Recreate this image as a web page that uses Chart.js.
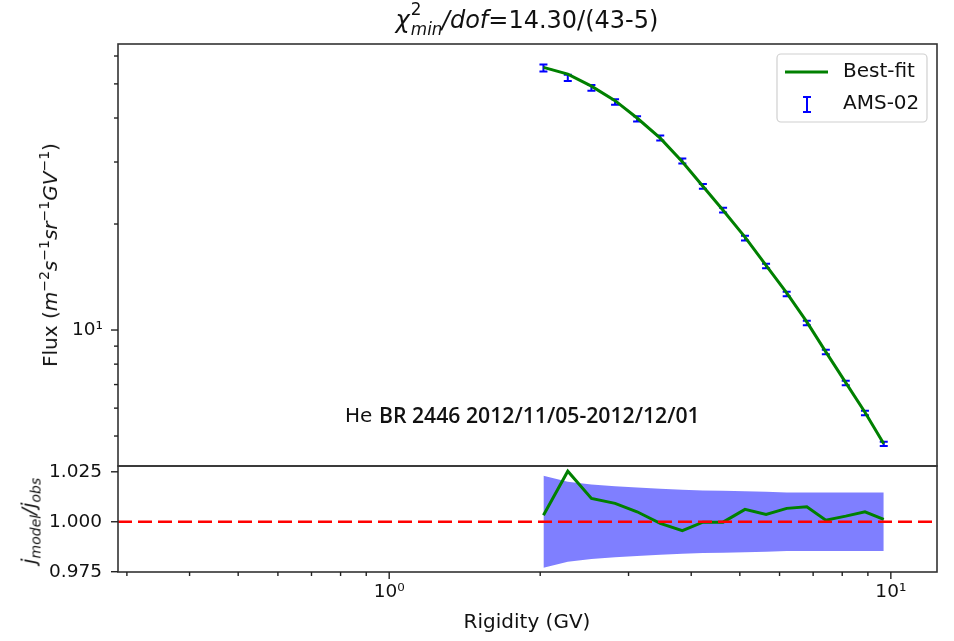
<!DOCTYPE html>
<html>
<head>
<meta charset="utf-8">
<script src="https://cdn.jsdelivr.net/npm/chart.js@4.4.0/dist/chart.umd.min.js"></script>
<style>
body{margin:0;background:#fff;font-family:"DejaVu Sans",sans-serif;color:#111;}
#wrap{position:relative;width:954px;height:641px;overflow:hidden;}
canvas{position:absolute;left:0;}
#top{top:0;}
#bot{top:446px;}
.lbl{position:absolute;white-space:nowrap;font-size:20px;line-height:24px;}
.title{font-size:24px;line-height:28px;}
.rot{transform:translate(-50%,-50%) rotate(-90deg);}
.ctr{transform:translate(-50%,0);}
.ss{position:relative;display:inline-block;width:32px;height:24px;}
.ss span{position:absolute;left:1px;font-size:16.8px;line-height:17px;}
.s2{top:-3px;}
.smin{top:17px;font-style:italic;}
sup{font-size:0.7em;vertical-align:0.55em;line-height:0;}
.ann2{font-family:"Open Sans",sans-serif;font-weight:600;font-size:21.2px;}
</style>
</head>
<body>
<div id="wrap">
<canvas id="top" width="954" height="468"></canvas>
<canvas id="bot" width="954" height="195"></canvas>
<div class="lbl title ctr" style="left:527px;top:4px;"><i>χ</i><span class="ss"><span class="s2">2</span><span class="smin">min</span></span><i>/dof</i>=14.30/(43-5)</div>
<div class="lbl rot" style="left:50px;top:255px;">Flux (<i>m</i><sup>−2</sup><i>s</i><sup>−1</sup><i>sr</i><sup>−1</sup><i>GV</i><sup>−1</sup>)</div>
<div class="lbl rot" style="left:32px;top:521px;"><i>j<sub style="font-size:0.7em">model</sub>/j<sub style="font-size:0.7em">obs</sub></i></div>
<div class="lbl ctr" style="left:527px;top:609px;">Rigidity (GV)</div>
<div class="lbl" style="left:345px;top:403px;">He<span class="ann2" style="position:absolute;left:34px;">BR 2446 2012/11/05-2012/12/01</span></div>
</div>
<script>
// AMS-02 He, BR 2446
const rigidity = [2.03, 2.27, 2.53, 2.82, 3.12, 3.47, 3.84, 4.22, 4.63, 5.12, 5.64, 6.20, 6.80, 7.42, 8.13, 8.88, 9.68];
const fluxObs = [55.5, 52.0, 48.7, 44.4, 39.8, 35.1, 30.2, 25.6, 21.9, 18.25, 15.2, 12.66, 10.47, 8.66, 7.07, 5.81, 4.75];
const ratio = [1.0033, 1.0253, 1.0117, 1.0092, 1.005, 0.9992, 0.9955, 0.9998, 0.9998, 1.0062, 1.0037, 1.0067, 1.0075, 1.0008, 1.0028, 1.005, 1.0012];
const relErr = [0.0230, 0.0200, 0.0187, 0.0178, 0.0171, 0.0165, 0.0160, 0.0157, 0.0155, 0.0153, 0.0150, 0.0147, 0.0146, 0.0146, 0.0146, 0.0146, 0.0146];

const xTicks = [0.3, 0.4, 0.5, 0.6, 0.7, 0.8, 0.9, 1, 2, 3, 4, 5, 6, 7, 8, 9, 10];
const fluxTicks = [5, 6, 7, 8, 9, 10, 20, 30, 40, 50, 60];
const ratioTicks = [0.975, 1.0, 1.025];
const xRange = [0.288, 12.36];

Chart.defaults.font.family = 'DejaVu Sans';
Chart.defaults.font.size = 18.5;
Chart.defaults.color = '#111';

const sup = {1: '10⁰', 10: '10¹'};

var frame = {
    id: 'frame',
    afterDraw: function(chart) {
        var a = chart.chartArea, ctx = chart.ctx;
        ctx.save();
        ctx.strokeStyle = '#333';
        ctx.lineWidth = 1.6;
        ctx.strokeRect(a.left, a.top, a.right - a.left, a.bottom - a.top);
        // tick marks, long for major short for minor
        ctx.strokeStyle = '#222';
        ctx.lineWidth = 1.4;
        Object.values(chart.scales).forEach(function(s) {
            if (!s.options.display) return;
            s.ticks.forEach(function(t) {
                var len = t.major ? 7 : 4;
                var p = s.getPixelForValue(t.value);
                ctx.beginPath();
                if (s.axis === 'x') { ctx.moveTo(p, s.top); ctx.lineTo(p, s.top + len); }
                else { ctx.moveTo(s.right, p); ctx.lineTo(s.right - len, p); }
                ctx.stroke();
            });
        });
        ctx.restore();
    }
};

var errorBars = {
    id: 'errorBars',
    beforeDatasetsDraw: function(chart) {
        var ctx = chart.ctx, x = chart.scales.x, y = chart.scales.y;
        ctx.save();
        ctx.strokeStyle = '#0000ff';
        ctx.lineWidth = 2;
        rigidity.forEach(function(r, i) {
            var px = x.getPixelForValue(r);
            var lo = y.getPixelForValue(fluxObs[i] * (1 - relErr[i]));
            var hi = y.getPixelForValue(fluxObs[i] * (1 + relErr[i]));
            ctx.beginPath();
            ctx.moveTo(px, lo); ctx.lineTo(px, hi);
            ctx.moveTo(px - 4, lo); ctx.lineTo(px + 4, lo);
            ctx.moveTo(px - 4, hi); ctx.lineTo(px + 4, hi);
            ctx.stroke();
        });
        ctx.restore();
    }
};

var legendBox = {
    id: 'legendBox',
    afterDraw: function(chart) {
        var ctx = chart.ctx, a = chart.chartArea;
        var x0 = a.right - 160, y0 = a.top + 10;
        ctx.save();
        ctx.fillStyle = 'rgba(255,255,255,0.8)';
        ctx.strokeStyle = '#d0d0d0';
        ctx.lineWidth = 1.2;
        ctx.beginPath();
        ctx.roundRect(x0, y0, 150, 68, 4);
        ctx.fill(); ctx.stroke();
        ctx.strokeStyle = '#008000';
        ctx.lineWidth = 3;
        ctx.beginPath(); ctx.moveTo(x0 + 8, y0 + 18); ctx.lineTo(x0 + 51, y0 + 18); ctx.stroke();
        ctx.strokeStyle = '#0000ff';
        ctx.lineWidth = 2;
        ctx.beginPath();
        ctx.moveTo(x0 + 30, y0 + 43); ctx.lineTo(x0 + 30, y0 + 58);
        ctx.moveTo(x0 + 26, y0 + 43); ctx.lineTo(x0 + 34, y0 + 43);
        ctx.moveTo(x0 + 26, y0 + 58); ctx.lineTo(x0 + 34, y0 + 58);
        ctx.stroke();
        ctx.fillStyle = '#111';
        ctx.font = '20px "DejaVu Sans"';
        ctx.textBaseline = 'middle';
        ctx.fillText('Best-fit', x0 + 66, y0 + 18);
        ctx.fillText('AMS-02', x0 + 66, y0 + 50);
        ctx.restore();
    }
};

function setTicks(list, majors) {
    return function(scale) {
        scale.ticks = list.map(function(v) { return {value: v, major: majors.indexOf(v) >= 0}; });
    };
}

// fixed axis box sizes so both plot areas line up
function fixY(s) { s.width = 118; s.paddingTop = 0; s.paddingBottom = 0; }
function fixX(s) { s.height = 69; s.paddingLeft = 0; s.paddingRight = 0; }

new Chart(document.getElementById('top'), {
    type: 'line',
    data: {
        datasets: [{
            label: 'Best-fit',
            data: rigidity.map(function(r, i) { return {x: r, y: fluxObs[i] * ratio[i]}; }),
            borderColor: '#008000',
            borderWidth: 3,
            pointRadius: 0,
            fill: false
        }]
    },
    options: {
        responsive: false,
        animation: false,
        layout: {autoPadding: false, padding: {left: 0, right: 17, top: 44, bottom: 2}},
        plugins: {legend: {display: false}, tooltip: {enabled: false}},
        scales: {
            x: {type: 'logarithmic', min: xRange[0], max: xRange[1], display: false},
            y: {
                type: 'logarithmic', min: 4.11, max: 64.9,
                afterBuildTicks: setTicks(fluxTicks, [10]),
                afterFit: fixY,
                grid: {display: false, drawTicks: false},
                border: {display: false},
                ticks: {autoSkip: false, padding: 15, callback: function(v) { return v === 10 ? '10¹' : ''; }}
            }
        }
    },
    plugins: [errorBars, frame, legendBox]
});

new Chart(document.getElementById('bot'), {
    type: 'line',
    data: {
        datasets: [{
            label: 'ratio',
            data: rigidity.map(function(r, i) { return {x: r, y: ratio[i]}; }),
            borderColor: '#008000', borderWidth: 3, pointRadius: 0, fill: false, order: 1
        }, {
            label: 'one',
            data: xRange.map(function(v) { return {x: v, y: 1}; }),
            borderColor: '#ff0000', borderWidth: 2.6, borderDash: [14, 6], pointRadius: 0, fill: false, order: 0
        }, {
            label: 'upper',
            data: rigidity.map(function(r, i) { return {x: r, y: 1 + relErr[i]}; }),
            borderWidth: 0, pointRadius: 0, backgroundColor: 'rgba(0,0,255,0.5)', fill: '+1', order: 3
        }, {
            label: 'lower',
            data: rigidity.map(function(r, i) { return {x: r, y: 1 - relErr[i]}; }),
            borderWidth: 0, pointRadius: 0, fill: false, order: 4
        }]
    },
    options: {
        responsive: false,
        animation: false,
        layout: {autoPadding: false, padding: {left: 0, right: 17, top: 20, bottom: 0}},
        plugins: {legend: {display: false}, tooltip: {enabled: false}},
        scales: {
            x: {
                type: 'logarithmic', min: xRange[0], max: xRange[1],
                afterBuildTicks: setTicks(xTicks, [1, 10]),
                afterFit: fixX,
                grid: {display: false, drawTicks: false},
                border: {display: false},
                ticks: {autoSkip: false, maxRotation: 0, padding: 9, callback: function(v) { return sup[v] || ''; }}
            },
            y: {
                min: 0.97485, max: 1.0279,
                afterBuildTicks: setTicks(ratioTicks, ratioTicks),
                afterFit: fixY,
                grid: {display: false, drawTicks: false},
                border: {display: false},
                ticks: {autoSkip: false, padding: 16, callback: function(v) { return v.toFixed(3); }}
            }
        }
    },
    plugins: [frame]
});
</script>
</body>
</html>
